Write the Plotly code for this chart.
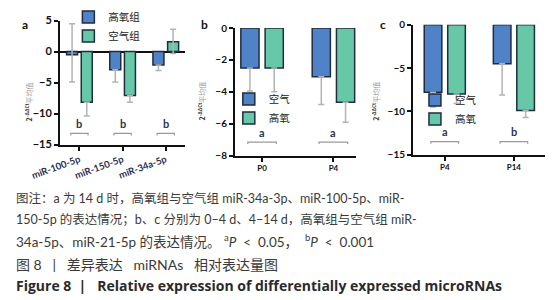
import plotly.graph_objects as go

# ---------------- data ----------------
cats_a = ["miR-100-5p", "miR-150-5p", "miR-34a-5p"]
hyper_a = [-0.5, -2.95, -2.15]
hyper_a_up = [5.0, 0.0, 0.0]
hyper_a_dn = [4.4, 1.95, 0.9]
air_a = [-8.2, -7.1, 1.6]
air_a_up = [0.0, 0.0, 2.0]
air_a_dn = [2.2, 1.1, 1.9]
sig_a = ["b", "b", "b"]

cats_b = ["P0", "P4"]
air_b = [-2.5, -3.05]
air_b_dn = [1.45, 1.75]
hyper_b = [-2.5, -4.65]
hyper_b_dn = [1.5, 1.25]
sig_b = ["a", "a"]

cats_c = ["P4", "P14"]
air_c = [-7.8, -4.5]
air_c_dn = [1.7, 3.6]
hyper_c = [-8.0, -9.9]
hyper_c_dn = [1.1, 0.8]
sig_c = ["a", "b"]

yticks_a = [5, 0, -5, -10, -15]
yticks_b = [0, -2, -4, -6, -8]
yticks_c = [0, -5, -10, -15]

NB = "\u00a0"
caption = [
    "图注：a 为 14 d 时，高氧组与空气组 miR-34a-3p、miR-100-5p、miR-",
    "150-5p 的表达情况；b、c 分别为 0–4 d、4–14 d，高氧组与空气组 miR-",
    "34a-5p、miR-21-5p 的表达情况。" + NB + "<sup>a</sup><i>P</i>" + NB * 2 + "<" + NB * 2
    + "0.05，" + NB * 2 + "<sup>b</sup><i>P</i>" + NB * 2 + "<" + NB * 2 + "0.001",
    "图" + NB + "8" + NB * 3 + "|" + NB * 3 + "差异表达" + NB * 3 + "miRNAs" + NB * 3 + "相对表达量图",
    "<b>Figure 8" + NB * 2 + "|" + NB * 3 + "Relative expression of differentially expressed microRNAs</b>",
]

# ---------------- style ----------------
BLUE = "#4f82c6"
GREEN = "#66c8a6"
EDGE = "#1f2d3d"
ERR = "#b3b3b3"
FONT = "Lato, 'Noto Sans CJK SC', sans-serif"
CJK = "'Noto Sans CJK SC', Lato, sans-serif"

fig = go.Figure()


def add_bar(name, cats, vals, up, dn, color, xa, ya, legend, offset):
    fig.add_trace(go.Bar(
        x=list(range(len(cats))), y=vals, name=name,
        marker=dict(color=color, line=dict(color=EDGE, width=1.5)),
        error_y=dict(type="data", symmetric=False, array=up, arrayminus=dn,
                     color=ERR, thickness=1.5, width=3),
        xaxis=xa, yaxis=ya, legend=legend, offsetgroup=offset,
    ))


add_bar("高氧组", cats_a, hyper_a, hyper_a_up, hyper_a_dn, BLUE, "x", "y", "legend", "1")
add_bar("空气组", cats_a, air_a, air_a_up, air_a_dn, GREEN, "x", "y", "legend", "2")
add_bar("空气", cats_b, air_b, [0] * 2, air_b_dn, BLUE, "x2", "y2", "legend2", "1")
add_bar("高氧", cats_b, hyper_b, [0] * 2, hyper_b_dn, GREEN, "x2", "y2", "legend2", "2")
add_bar("空气", cats_c, air_c, [0] * 2, air_c_dn, BLUE, "x3", "y3", "legend3", "1")
add_bar("高氧", cats_c, hyper_c, [0] * 2, hyper_c_dn, GREEN, "x3", "y3", "legend3", "2")

annotations = []


def add_sig(sigs, xa, ya, y_letter, y_br, drop, half=0.2):
    for i, s in enumerate(sigs):
        fig.add_trace(go.Scatter(
            x=[i - half, i - half, i + half, i + half],
            y=[y_br - drop, y_br, y_br, y_br - drop],
            mode="lines", line=dict(color="#9a9a9a", width=1.2),
            showlegend=False, hoverinfo="skip", xaxis=xa, yaxis=ya,
        ))
        annotations.append(dict(
            x=i, y=y_letter, xref=xa, yref=ya, text=s, showarrow=False,
            font=dict(family=FONT, size=11, color="#2a3550", weight="bold"),
        ))


add_sig(sig_a, "x", "y", -11.6, -13.2, 0.35)
add_sig(sig_b, "x2", "y2", -6.55, -7.15, 0.12)
add_sig(sig_c, "x3", "y3", -12.3, -13.5, 0.25)

axis_common = dict(showline=True, linecolor="#111", linewidth=2, ticks="outside",
                   tickcolor="#111", ticklen=4, tickwidth=1.5, showgrid=False,
                   zeroline=False)

LEG = dict(xanchor="left", yanchor="top", font=dict(family=CJK, size=10.5, color="#222"),
           bgcolor="rgba(0,0,0,0)", tracegroupgap=0, borderwidth=0)

fig.update_layout(
    width=559, height=300,
    margin=dict(l=0, r=0, t=0, b=0, autoexpand=False),
    paper_bgcolor="white", plot_bgcolor="white",
    barmode="group", bargap=0.32, bargroupgap=0.25,
    showlegend=True,
    xaxis=dict(domain=[0.093, 0.317], range=[-0.45, 2.45], tickvals=[0, 1, 2],
               ticktext=cats_a, tickangle=-20, anchor="y",
               tickfont=dict(family=FONT, size=9.5, color="#2b2d4f", weight="bold"),
               **axis_common),
    yaxis=dict(domain=[0.545, 0.958], range=[-15, 5], tickvals=yticks_a, anchor="x",
               tickfont=dict(family=FONT, size=11, color="#111", weight="bold"),
               **{**axis_common, "zeroline": True}, zerolinecolor="#111",
               zerolinewidth=1.5),
    xaxis2=dict(domain=[0.406, 0.623], range=[-0.38, 1.32], tickvals=[0, 1],
                ticktext=cats_b, anchor="y2",
                tickfont=dict(family=FONT, size=8, color="#111", weight="bold"),
                **axis_common),
    yaxis2=dict(domain=[0.508, 0.933], range=[-8, 0], tickvals=yticks_b, anchor="x2",
                tickfont=dict(family=FONT, size=10, color="#111", weight="bold"),
                **axis_common),
    xaxis3=dict(domain=[0.7245, 0.9606], range=[-0.46, 1.45], tickvals=[0, 1],
                ticktext=cats_c, anchor="y3",
                tickfont=dict(family=FONT, size=8, color="#111", weight="bold"),
                **axis_common),
    yaxis3=dict(domain=[0.511, 0.944], range=[-15, 0], tickvals=yticks_c, anchor="x3",
                tickfont=dict(family=FONT, size=10, color="#111", weight="bold"),
                **axis_common),
    legend=dict(x=0.108, y=1.018, **LEG),
    legend2=dict(x=0.395, y=0.745, **LEG),
    legend3=dict(x=0.728, y=0.742, **LEG),
)

# panel letters
for letter, px in [("a", 0.022), ("b", 0.342), ("c", 0.662)]:
    annotations.append(dict(x=px, y=1 - 16 / 300, xref="paper", yref="paper", text=letter,
                            showarrow=False, xanchor="left", yanchor="middle",
                            font=dict(family=FONT, size=12, color="#111", weight="bold")))

# y-axis titles
ytitle = "<b>2<sup>-ΔΔCt</sup></b><span style='color:#9a9a9a'>平均值</span>"
for px, py in [(0.024, 0.76), (0.332, 0.76), (0.657, 0.76)]:
    annotations.append(dict(x=px, y=py, xref="paper", yref="paper", text=ytitle,
                            showarrow=False, textangle=-90,
                            font=dict(family=CJK, size=7, color="#333")))

# caption
cap_y = [190, 211, 233, 256, 277]
cap_fonts = [
    dict(family=FONT, size=12.5, color="#3a3a3a"),
    dict(family=FONT, size=12.5, color="#3a3a3a"),
    dict(family=FONT, size=13.5, color="#3a3a3a"),
    dict(family=FONT, size=14, color="#3a3a3a"),
    dict(family="'Open Sans', Lato, sans-serif", size=14, color="#2a2a2a"),
]
for txt, yy, fnt in zip(caption, cap_y, cap_fonts):
    annotations.append(dict(x=6 / 559, y=1 - yy / 300, xref="paper", yref="paper",
                            text=txt, showarrow=False, xanchor="left", yanchor="middle",
                            font=fnt))

fig.update_layout(annotations=annotations)
fig.write_html("out.html")
